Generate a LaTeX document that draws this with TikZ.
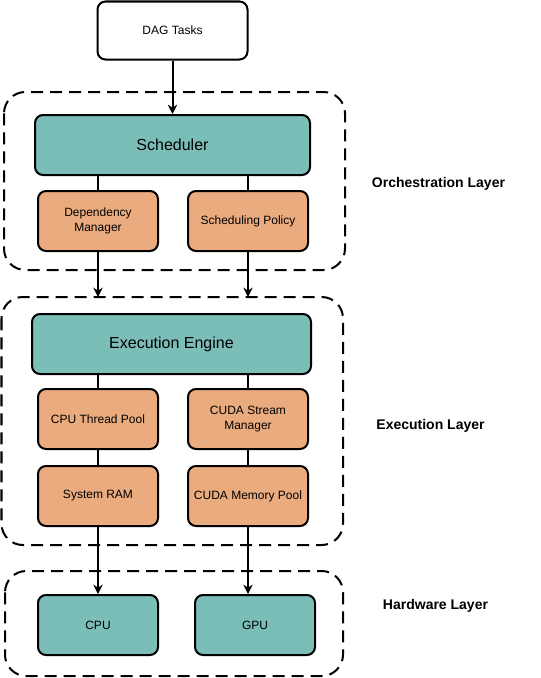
\documentclass[tikz,border=0pt]{standalone}
\usepackage{fontspec}
\setmainfont{Liberation Sans}
\usetikzlibrary{arrows.meta}

\definecolor{tealfill}{RGB}{122,190,183}
\definecolor{orangefill}{RGB}{234,171,126}

\tikzset{every picture/.style={line width=1.5pt}}
\tikzset{
  plainbox/.style={draw, rounded corners=6pt, inner sep=0pt, align=center, font=\fontsize{9}{11}\selectfont, minimum width=90pt, minimum height=45pt},
  tealbox/.style={plainbox, fill=tealfill},
  orangebox/.style={plainbox, fill=orangefill},
  layerbox/.style={draw, dash pattern=on 9pt off 5.25pt, rounded corners=16pt},
  layerlabel/.style={font=\fontsize{10.5}{12}\selectfont\bfseries, inner sep=0.75pt},
  arr/.style={-{Stealth[length=7pt,width=7pt]}}
}

\begin{document}
\begin{tikzpicture}[x=0.75pt,y=0.75pt,yscale=-1,xscale=1]
\useasboundingbox (0,0) rectangle (540,678);

%Shape: Rounded Rect [layer boxes]
\draw [layerbox] (4,92) rectangle (345,270);
\draw [layerbox] (1.5,297) rectangle (343,545);
\draw [layerbox] (5,571) rectangle (343,676);

%Shape: Rounded Rect [input]
\node [plainbox, minimum width=112.5pt, minimum height=43.5pt] (dag) at (172.5,30.5) {DAG Tasks};

%Shape: Rounded Rect [orchestration]
\node [tealbox, minimum width=206.25pt, font=\fontsize{12}{14}\selectfont] (sched) at (172.5,145) {Scheduler};
\node [orangebox] (dep) at (98,221) {Dependency\\Manager};
\node [orangebox] (pol) at (248,221) {Scheduling Policy};

%Shape: Rounded Rect [execution]
\node [tealbox, minimum width=209.25pt, font=\fontsize{12}{14}\selectfont] (engine) at (171.5,344) {Execution Engine};
\node [orangebox] (thread) at (98,419) {CPU Thread Pool};
\node [orangebox] (stream) at (248,419) {CUDA Stream\\Manager};
\node [orangebox] (ram) at (98,496) {System RAM};
\node [orangebox] (mempool) at (248,496) {CUDA Memory Pool};

%Shape: Rounded Rect [hardware]
\node [tealbox] (cpu) at (98,625) {CPU};
\node [tealbox] (gpu) at (255,625) {GPU};

% Text Node
\node [layerlabel] (orchlbl) at (438.5,184) {Orchestration Layer};
% Text Node
\node [layerlabel] (execlbl) at (430.5,426) {Execution Layer};
% Text Node
\node [layerlabel] (hwlbl) at (435.5,606) {Hardware Layer};

%Straight Lines [links]
\coordinate (execinL) at (98,297);
\coordinate (execinR) at (248,297);
\draw [arr] (dag) -- (sched);
\draw (dep.north |- sched.south) -- (dep.north);
\draw (pol.north |- sched.south) -- (pol.north);
\draw [arr] (dep.south) -- (execinL);
\draw [arr] (pol.south) -- (execinR);
\draw (thread.north |- engine.south) -- (thread.north);
\draw (stream.north |- engine.south) -- (stream.north);
\draw (thread) -- (ram);
\draw (stream) -- (mempool);
\draw [arr] (ram) -- (cpu);
\draw [arr] (mempool.south) -- (mempool.south |- gpu.north);

\end{tikzpicture}
\end{document}
